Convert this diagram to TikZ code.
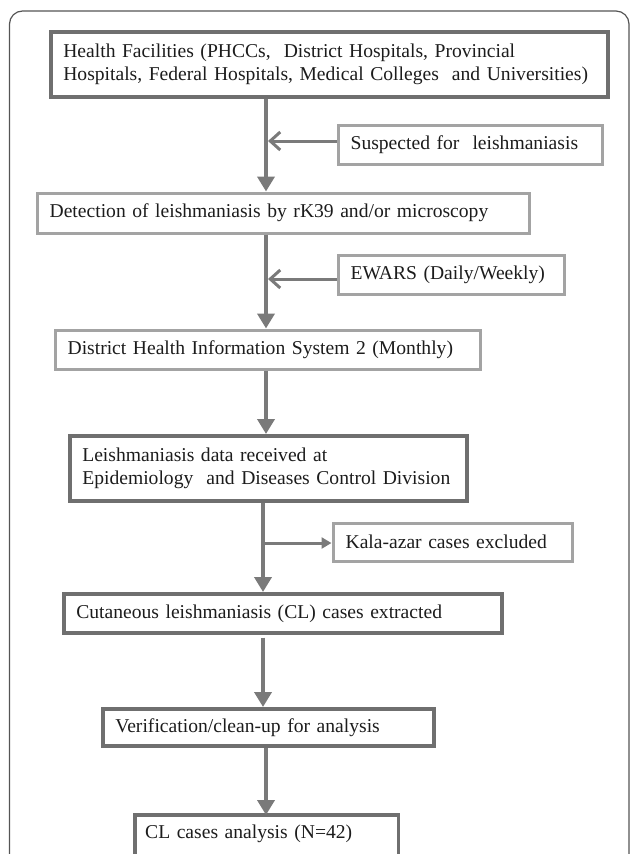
\documentclass[tikz,border=0pt]{standalone}
\usepackage{fontspec}
\setmainfont{Liberation Serif}
\usetikzlibrary{arrows.meta}
\definecolor{darkb}{HTML}{6F6F6F}
\definecolor{lightb}{HTML}{A3A3A3}
\definecolor{arrc}{HTML}{7A7A7A}
\definecolor{framec}{HTML}{555555}
\definecolor{txt}{HTML}{1C1C1C}
\tikzset{
  boxbase/.style={anchor=north west, align=left, inner xsep=12.5pt, inner ysep=0pt,
    text=txt, font=\fontsize{19.6}{23}\selectfont},
  dbox/.style={boxbase, draw=darkb, line width=3.6pt},
  lbox/.style={boxbase, draw=lightb, line width=3.2pt},
  mainarr/.style={draw=arrc, line width=4pt, -{Triangle[width=17pt,length=15pt]}},
  inarr/.style={draw=arrc, line width=3pt, -{Straight Barb[width=18pt,length=10pt,line width=3pt]}},
  outarr/.style={draw=arrc, line width=3pt, -{Triangle[width=11pt,length=10pt]}},
}
\begin{document}
\begin{tikzpicture}[x=1pt,y=-1pt]
\useasboundingbox (0,0) rectangle (630,854);
\clip (0,0) rectangle (630,854);
\draw[framec, line width=1.2pt, rounded corners=13pt] (9.5,11) rectangle (629,900);
% boxes
\node[dbox, minimum width=557pt, minimum height=65pt, text width=532pt] (hf) at (49,30)
  {Health Facilities (PHCCs,\ \ District Hospitals, Provincial\\Hospitals, Federal Hospitals, Medical Colleges\ \ and Universities)};
\node[lbox, minimum width=264pt, minimum height=39pt, text width=239pt] (sus) at (336.5,123.5)
  {Suspected for\ \ leishmaniasis};
\node[lbox, minimum width=492pt, minimum height=40pt, text width=467pt] (det) at (35.5,191.5)
  {Detection of leishmaniasis by rK39 and/or microscopy};
\node[lbox, minimum width=226pt, minimum height=39pt, text width=201pt] (ew) at (336.5,253.5)
  {EWARS (Daily/Weekly)};
\node[lbox, minimum width=425pt, minimum height=39pt, text width=400pt] (dhis) at (53.5,328.5)
  {District Health Information System 2 (Monthly)};
\node[dbox, minimum width=397pt, minimum height=65pt, text width=372pt, inner xsep=11pt] (edc) at (68,434)
  {Leishmaniasis data received at\\Epidemiology\ \ and Diseases Control Division};
\node[lbox, minimum width=239pt, minimum height=38pt, text width=214pt] (ka) at (331.5,521.5)
  {Kala-azar cases excluded};
\node[dbox, minimum width=438pt, minimum height=39pt, text width=413pt] (cut) at (62,592)
  {Cutaneous leishmaniasis (CL) cases extracted};
\node[dbox, minimum width=331pt, minimum height=37pt, text width=306pt] (ver) at (101,707)
  {Verification/clean-up for analysis};
\node[boxbase, minimum width=263pt, minimum height=38pt, text width=243pt, inner xsep=10pt] (cl) at (135,815)
  {CL cases analysis (N=42)};
\draw[darkb, line width=3.6pt] ([yshift=-30pt]cl.south west) -- (cl.north west) -- (cl.north east) -- ([yshift=-30pt]cl.south east);
% spine reference coordinates
\coordinate (ax1) at (266,0);
\coordinate (ax2) at (263,0);
\coordinate (j1) at (268,141);
\coordinate (j2) at (268,279);
\coordinate (j3) at (265,543);
% connectors
\draw[mainarr] (hf.south -| ax1) -- (det.north -| ax1);
\draw[inarr] (sus.west |- j1) -- (j1);
\draw[mainarr] (det.south -| ax1) -- (dhis.north -| ax1);
\draw[inarr] (ew.west |- j2) -- (j2);
\draw[mainarr] (dhis.south -| ax1) -- (edc.north -| ax1);
\draw[mainarr] (edc.south -| ax2) -- (cut.north -| ax2);
\draw[outarr] (j3) -- (ka.west |- j3);
\draw[mainarr] ([yshift=-3pt]cut.south -| ax2) -- (ver.north -| ax2);
\draw[mainarr] (ver.south -| ax1) -- (cl.north -| ax1);
\end{tikzpicture}
\end{document}
